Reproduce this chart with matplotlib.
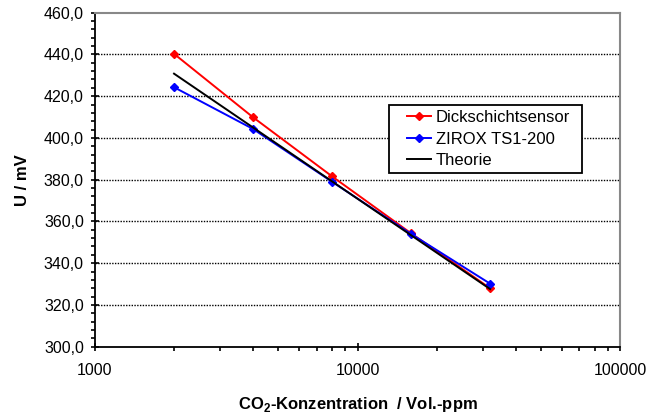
import matplotlib
matplotlib.use("Agg")
import matplotlib.pyplot as plt
from matplotlib.lines import Line2D
from matplotlib.legend_handler import HandlerLine2D
from matplotlib.ticker import FixedLocator, MultipleLocator, FuncFormatter, LogLocator, NullFormatter

plt.rcParams['font.family'] = ['Liberation Sans', 'DejaVu Sans']
plt.rcParams['mathtext.fontset'] = 'custom'
plt.rcParams['mathtext.rm'] = 'Liberation Sans:bold'
plt.rcParams['mathtext.bf'] = 'Liberation Sans:bold'

conc = [2000, 4000, 8000, 16000, 32000]
dick = [440.3, 409.9, 381.6, 354.3, 328.0]
zirox = [424.3, 404.3, 379.0, 354.0, 330.2]
theorie = [430.8, 405.0, 379.2, 353.4, 327.6]

W, H = 649, 419
fig = plt.figure(figsize=(W/100, H/100), dpi=100)
L, R, T, B = 95, 620, 12.7, 346.7
ax = fig.add_axes([L/W, (H-B)/H, (R-L)/W, (B-T)/H])

ax.plot(conc, dick, color='#ff0000', marker='D', markersize=4, lw=1.4, label='Dickschichtsensor')
ax.plot(conc, zirox, color='#0000ff', marker='D', markersize=4, lw=1.4, label='ZIROX TS1-200')
ax.plot([conc[0], conc[-1]], [theorie[0], theorie[-1]], color='black', lw=1.4, label='Theorie')

ax.set_xscale('log')
ax.set_xlim(1000, 100000)
ax.set_ylim(300, 460)
ax.yaxis.set_major_locator(MultipleLocator(20))
ax.yaxis.set_minor_locator(MultipleLocator(4))
ax.yaxis.set_major_formatter(FuncFormatter(lambda v, p: f"{v:.1f}".replace('.', ',')))
ax.xaxis.set_major_locator(FixedLocator([1000, 10000, 100000]))
ax.xaxis.set_major_formatter(FuncFormatter(lambda v, p: f"{int(v)}"))
ax.xaxis.set_minor_locator(LogLocator(base=10, subs=range(2, 10)))
ax.xaxis.set_minor_formatter(NullFormatter())

for y in range(320, 460, 20):
    ax.axhline(y, color='black', lw=1.0, ls=(0, (1, 1)), zorder=0)

ax.spines['top'].set_color('#888888')
ax.spines['right'].set_color('#888888')
ax.spines['top'].set_linewidth(1.5)
ax.spines['right'].set_linewidth(1.5)
ax.spines['left'].set_linewidth(1.3)
ax.spines['bottom'].set_linewidth(1.3)

ax.tick_params(axis='both', which='major', direction='inout', length=6, width=1.2, labelsize=11.5)
ax.tick_params(axis='both', which='minor', direction='out', length=3, width=1.2)
ax.tick_params(axis='y', which='major', pad=5)
ax.tick_params(axis='x', which='major', pad=9)

ax.set_ylabel('U / mV', fontsize=12, fontweight='bold', labelpad=10)
ax.set_xlabel(r'CO$_\mathbf{2}$-Konzentration  / Vol.-ppm', fontsize=12, fontweight='bold', labelpad=12)

hm = {Line2D: HandlerLine2D(xpad=0.8)}
lx0 = (389 - L) / (R - L)
lw_ = (582 - 389) / (R - L)
ly1 = (B - 175) / (B - T)
lh = (175 - 105) / (B - T)
leg = ax.legend(loc='upper left', bbox_to_anchor=(lx0, ly1, lw_, lh), mode='expand', fontsize=12,
                frameon=True, fancybox=False, edgecolor='black', framealpha=1,
                handlelength=2.2, handletextpad=0.3, borderpad=0.3, labelspacing=0.4,
                borderaxespad=0, handler_map=hm)
leg.get_frame().set_linewidth(1.3)

fig.savefig('out.png', dpi=100)
